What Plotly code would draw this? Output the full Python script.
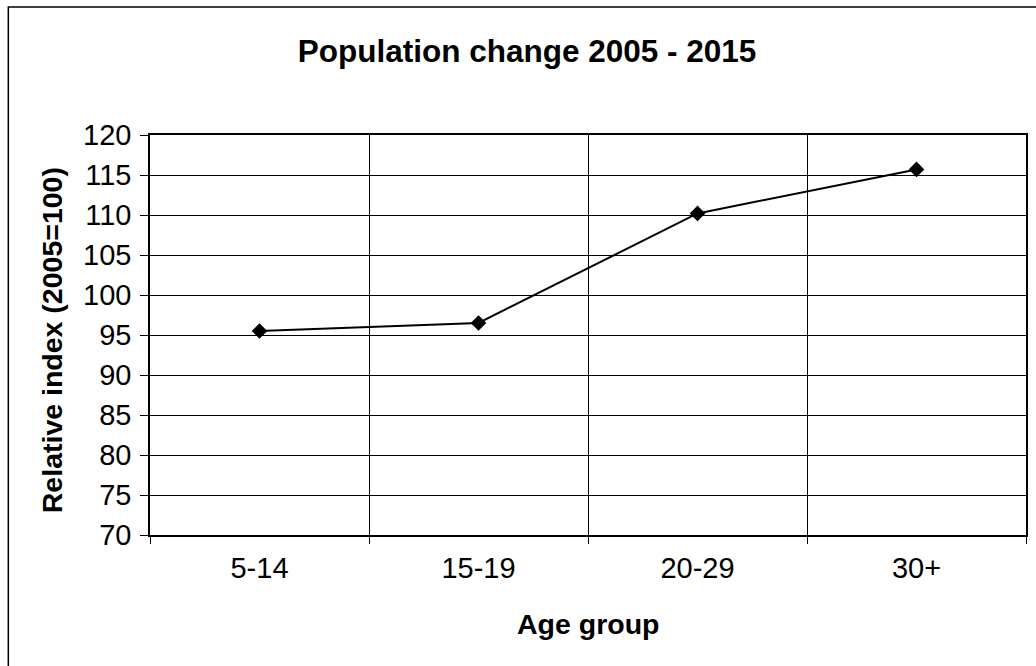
import plotly.graph_objects as go

# Population index by age group (2005 = 100)
age_groups = ["5-14", "15-19", "20-29", "30+"]
index_2015 = [95.5, 96.5, 110.2, 115.7]
y_ticks = [70, 75, 80, 85, 90, 95, 100, 105, 110, 115, 120]

FONT = "Liberation Sans, Arial, sans-serif"
W, H = 1036, 666
L, R, T, B = 150, 8, 135, 131

fig = go.Figure(
    go.Scatter(
        x=age_groups,
        y=index_2015,
        mode="lines+markers",
        line=dict(color="black", width=2),
        marker=dict(symbol="diamond", size=12, color="black"),
        showlegend=False,
    )
)

pw = W - L - R
ph = H - T - B


def px_x(px):
    return (px - L) / pw


def px_y(py):
    return (H - B - py) / ph


fig.update_layout(
    width=W,
    height=H,
    margin=dict(l=L, r=R, t=T, b=B),
    paper_bgcolor="white",
    plot_bgcolor="white",
    font=dict(family=FONT, size=29, color="black"),
    title=dict(
        text="Population change 2005 - 2015",
        font=dict(family=FONT, size=31.5, weight="bold", color="black"),
        x=527 / W,
        xanchor="center",
        xref="container",
        y=1 - 51 / H,
        yanchor="middle",
    ),
    xaxis=dict(
        type="category",
        range=[-0.5, 3.5],
        tickson="boundaries",
        ticks="outside",
        ticklen=7,
        tickwidth=1,
        tickcolor="black",
        showgrid=True,
        gridcolor="black",
        gridwidth=1,
        showline=True,
        linecolor="black",
        linewidth=1.5,
        mirror=True,
        ticklabelstandoff=6,
        tickfont=dict(family=FONT, size=29, color="black"),
        fixedrange=True,
    ),
    yaxis=dict(
        range=[70, 120],
        tickvals=y_ticks,
        ticks="outside",
        ticklen=8,
        tickwidth=1,
        tickcolor="black",
        showgrid=True,
        gridcolor="black",
        gridwidth=1,
        zeroline=False,
        showline=True,
        linecolor="black",
        linewidth=1.5,
        mirror=True,
        ticklabelstandoff=3,
        tickfont=dict(family=FONT, size=29, color="black"),
        fixedrange=True,
    ),
    annotations=[
        dict(
            text="Age group",
            x=0.5,
            xref="paper",
            y=px_y(624),
            yref="paper",
            xanchor="center",
            yanchor="middle",
            showarrow=False,
            font=dict(family=FONT, size=28.5, weight="bold", color="black"),
        ),
        dict(
            text="Relative index (2005=100)",
            x=px_x(52),
            xref="paper",
            y=px_y(340),
            yref="paper",
            xanchor="center",
            yanchor="middle",
            textangle=-90,
            showarrow=False,
            font=dict(family=FONT, size=28.5, weight="bold", color="black"),
        ),
    ],
    shapes=[
        dict(
            type="rect",
            xref="paper",
            yref="paper",
            x0=px_x(8),
            y0=px_y(672),
            x1=px_x(1042),
            y1=px_y(7),
            line=dict(color="black", width=1.5),
            fillcolor="rgba(0,0,0,0)",
            layer="below",
        )
    ],
)

fig.write_html("out.html")
